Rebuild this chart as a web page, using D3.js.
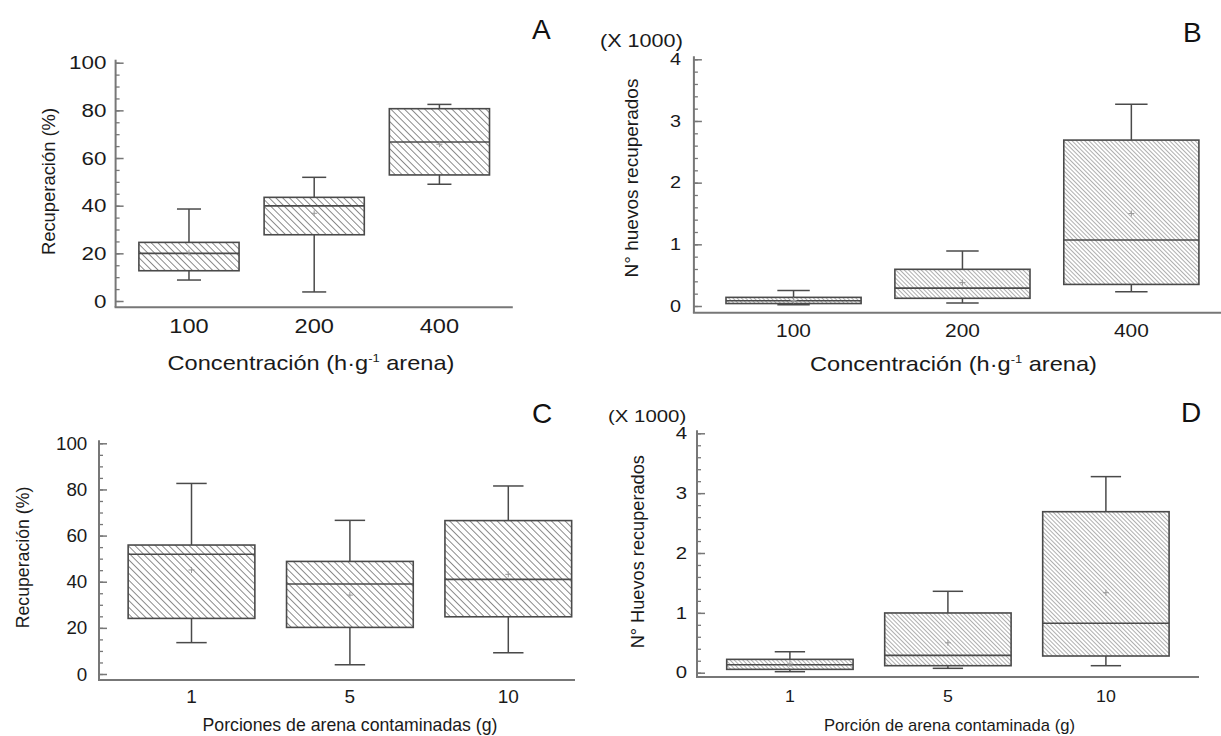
<!DOCTYPE html>
<html>
<head>
<meta charset="utf-8">
<script src="https://cdn.jsdelivr.net/npm/d3@7"></script>
<style>
  body { margin: 0; background: #fff; }
  text { font-family: "Liberation Sans", Arial, sans-serif; fill: #1a1a1a; }
</style>
</head>
<body>
<div id="chart"></div>
<script>
// categories
const concCats = ['100', '200', '400'];
const portionCats = ['1', '5', '10'];

// A: recuperación (%) por concentración
const recConcMin  = [8.8, 3.8, 49.0];
const recConcQ1   = [12.7, 27.8, 52.9];
const recConcMed  = [20.0, 39.9, 66.7];
const recConcQ3   = [24.6, 43.5, 80.7];
const recConcMax  = [38.6, 51.9, 82.5];
const recConcMean = [20.3, 36.8, 65.8];

// B: huevos recuperados (x 1000) por concentración
const eggConcMin  = [0.02, 0.05, 0.23];
const eggConcQ1   = [0.04, 0.125, 0.35];
const eggConcMed  = [0.085, 0.29, 1.07];
const eggConcQ3   = [0.14, 0.595, 2.69];
const eggConcMax  = [0.25, 0.89, 3.27];
const eggConcMean = [0.09, 0.38, 1.50];

// C: recuperación (%) por porción de arena
const recPortMin  = [13.6, 4.0, 9.2];
const recPortQ1   = [24.1, 20.2, 24.8];
const recPortMed  = [51.9, 39.0, 41.0];
const recPortQ3   = [55.9, 48.8, 66.5];
const recPortMax  = [82.6, 66.6, 81.5];
const recPortMean = [45.1, 34.2, 43.2];

// D: huevos recuperados (x 1000) por porción de arena
const eggPortMin  = [0.017, 0.073, 0.117];
const eggPortQ1   = [0.056, 0.117, 0.279];
const eggPortMed  = [0.134, 0.29, 0.825];
const eggPortQ3   = [0.223, 0.998, 2.69];
const eggPortMax  = [0.35, 1.36, 3.276];
const eggPortMean = [0.145, 0.50, 1.337];

const pctTicks = [0, 20, 40, 60, 80, 100];
const eggTicks = [0, 1, 2, 3, 4];

const w = 1221;
const h = 736;
const axisColor = '#777';
const boxColor = '#4a4a4a';

const svg = d3.select('#chart')
    .append('svg')
    .attr('width', w)
    .attr('height', h)
    .style('background-color', '#fff');

const defs = svg.append('defs');

function hatch(id, size, color, width) {
    const p = defs.append('pattern')
        .attr('id', id)
        .attr('patternUnits', 'userSpaceOnUse')
        .attr('width', size)
        .attr('height', size)
        .attr('patternTransform', 'rotate(-45)');
    p.append('rect').attr('width', size).attr('height', size).attr('fill', '#fff');
    p.append('line')
        .attr('x1', size / 2).attr('y1', -1)
        .attr('x2', size / 2).attr('y2', size + 1)
        .attr('stroke', color)
        .attr('stroke-width', width);
}
hatch('hatchAC', 4.8, '#7f7f7f', 0.9);
hatch('hatchBD', 3, '#a0a0a0', 0.85);

function label(g, txt, x, y, size, sx, anchor) {
    return g.append('text')
        .attr('transform', `translate(${x},${y}) scale(${sx},1)`)
        .attr('text-anchor', anchor)
        .attr('font-size', size)
        .text(txt);
}

function drawPanel(p) {
    const g = svg.append('g');

    const x = d3.scaleBand()
        .domain(p.cats)
        .range([p.x0, p.xr])
        .paddingInner(0.2)
        .paddingOuter(p.po);
    const y = d3.scaleLinear()
        .domain([0, p.top])
        .range([p.yZero, p.yTop]);
    const bw = x.bandwidth();
    const cw = bw * 0.24;

    const rows = p.cats.map((c, i) => ({
        cat: c, lo: p.lo[i], q1: p.q1[i], med: p.med[i],
        q3: p.q3[i], hi: p.hi[i], mean: p.mean[i]
    }));

    // axes
    g.append('line')
        .attr('x1', p.x0).attr('x2', p.x0)
        .attr('y1', p.yTop - 3).attr('y2', p.xAxisY)
        .attr('stroke', axisColor).attr('stroke-width', 2);
    g.append('line')
        .attr('x1', p.x0 - 1).attr('x2', p.xEnd)
        .attr('y1', p.xAxisY).attr('y2', p.xAxisY)
        .attr('stroke', axisColor).attr('stroke-width', 2);

    g.append('g')
        .attr('transform', `translate(${p.x0},0)`)
        .attr('color', axisColor)
        .call(d3.axisLeft(y).tickValues(d3.range(0, p.top + 1e-9, p.minor)).tickSize(-4).tickFormat(''))
        .call(a => a.select('.domain').remove())
        .selectAll('line').attr('stroke-width', 1.3);

    const yAxis = g.append('g')
        .attr('transform', `translate(${p.x0},0)`)
        .attr('color', axisColor)
        .call(d3.axisLeft(y).tickValues(p.ticks).tickSize(-8).tickPadding(p.tickPad).tickFormat(d3.format('d')))
        .call(a => a.select('.domain').remove());
    yAxis.attr('font-size', p.tickFs).attr('font-family', null);
    yAxis.selectAll('line').attr('stroke-width', 1.5);
    yAxis.selectAll('text')
        .attr('fill', '#1a1a1a')
        .attr('transform', `scale(${p.tickSx},1)`);

    // whiskers
    const box = g.selectAll('.box').data(rows).enter().append('g').attr('class', 'box');
    const cx = d => x(d.cat) + bw / 2;

    box.append('line')
        .attr('x1', cx).attr('x2', cx)
        .attr('y1', d => y(d.hi)).attr('y2', d => y(d.q3))
        .attr('stroke', boxColor).attr('stroke-width', 1.5);
    box.append('line')
        .attr('x1', cx).attr('x2', cx)
        .attr('y1', d => y(d.q1)).attr('y2', d => y(d.lo))
        .attr('stroke', boxColor).attr('stroke-width', 1.5);
    box.append('line')
        .attr('x1', d => cx(d) - cw / 2).attr('x2', d => cx(d) + cw / 2)
        .attr('y1', d => y(d.hi)).attr('y2', d => y(d.hi))
        .attr('stroke', boxColor).attr('stroke-width', 1.5);
    box.append('line')
        .attr('x1', d => cx(d) - cw / 2).attr('x2', d => cx(d) + cw / 2)
        .attr('y1', d => y(d.lo)).attr('y2', d => y(d.lo))
        .attr('stroke', boxColor).attr('stroke-width', 1.5);

    box.append('rect')
        .attr('x', d => x(d.cat))
        .attr('y', d => y(d.q3))
        .attr('width', bw)
        .attr('height', d => y(d.q1) - y(d.q3))
        .attr('fill', `url(#${p.hatch})`)
        .attr('stroke', boxColor)
        .attr('stroke-width', 1.6);

    box.append('line')
        .attr('x1', d => x(d.cat)).attr('x2', d => x(d.cat) + bw)
        .attr('y1', d => y(d.med)).attr('y2', d => y(d.med))
        .attr('stroke', boxColor).attr('stroke-width', 1.6);

    // mean marker
    box.append('path')
        .attr('d', d => `M${cx(d) - 3},${y(d.mean)}h6M${cx(d)},${y(d.mean) - 3}v6`)
        .attr('stroke', '#999').attr('stroke-width', 1);

    // category labels
    rows.forEach(d => label(g, d.cat, cx(d), p.xlabY, p.xlabFs, p.xlabSx, 'middle'));

    // x title
    const t = label(g, '', p.titleX, p.titleY, p.titleFs, p.titleSx, 'middle');
    t.append('tspan').text(p.title[0]);
    if (p.title[1]) {
        t.append('tspan').attr('dy', -p.titleFs * 0.42).attr('font-size', p.titleFs * 0.55).text(p.title[1]);
        t.append('tspan').attr('dy', p.titleFs * 0.42).text(p.title[2]);
    }

    // y title
    g.append('text')
        .attr('transform', `translate(${p.yTitleX},${p.yTitleY}) rotate(-90)`)
        .attr('text-anchor', 'middle')
        .attr('font-size', p.yTitleFs)
        .text(p.yTitle);

    if (p.mult) {
        label(g, p.mult, p.multX, p.multY, p.multFs, 1.2, 'start');
    }

    g.append('text')
        .attr('x', p.letterX).attr('y', p.letterY)
        .attr('font-family', 'Lato, "Open Sans", sans-serif')
        .attr('font-size', 28)
        .style('fill', '#111')
        .text(p.letter);
}

drawPanel({
    cats: concCats, lo: recConcMin, q1: recConcQ1, med: recConcMed, q3: recConcQ3, hi: recConcMax, mean: recConcMean,
    x0: 115.6, xr: 512.8, po: 0.186, xEnd: 512.8,
    yZero: 301, yTop: 62.7, xAxisY: 307.3, top: 100, ticks: pctTicks, minor: 5,
    tickFs: 19, tickSx: 1.18, tickPad: 7.8,
    xlabFs: 20, xlabSx: 1.18, xlabY: 333,
    title: ['Concentración (h·g', '-1', ' arena)'], titleX: 311, titleY: 370, titleFs: 20, titleSx: 1.18,
    yTitle: 'Recuperación (%)', yTitleX: 55, yTitleY: 181.5, yTitleFs: 18.4,
    hatch: 'hatchAC', letter: 'A', letterX: 532, letterY: 39
});

drawPanel({
    cats: concCats, lo: eggConcMin, q1: eggConcQ1, med: eggConcMed, q3: eggConcQ3, hi: eggConcMax, mean: eggConcMean,
    x0: 693.9, xr: 1231, po: 0.19, xEnd: 1221,
    yZero: 306, yTop: 59.3, xAxisY: 312.7, top: 4, ticks: eggTicks, minor: 0.2,
    tickFs: 16.5, tickSx: 1.2, tickPad: 10.8,
    xlabFs: 19, xlabSx: 1.1, xlabY: 337,
    title: ['Concentración (h·g', '-1', ' arena)'], titleX: 953.5, titleY: 371, titleFs: 20, titleSx: 1.18,
    yTitle: 'N° huevos recuperados', yTitleX: 637.6, yTitleY: 178, yTitleFs: 19,
    mult: '(X 1000)', multX: 600, multY: 47, multFs: 18,
    hatch: 'hatchBD', letter: 'B', letterX: 1183, letterY: 42
});

drawPanel({
    cats: portionCats, lo: recPortMin, q1: recPortQ1, med: recPortMed, q3: recPortQ3, hi: recPortMax, mean: recPortMean,
    x0: 99, xr: 600.8, po: 0.184, xEnd: 575,
    yZero: 674, yTop: 443.3, xAxisY: 680, top: 100, ticks: pctTicks, minor: 5,
    tickFs: 18.8, tickSx: 1, tickPad: 11.7,
    xlabFs: 19, xlabSx: 1, xlabY: 703,
    title: ['Porciones de arena contaminadas (g)'], titleX: 350, titleY: 731, titleFs: 17.7, titleSx: 1,
    yTitle: 'Recuperación (%)', yTitleX: 28.7, yTitleY: 557.5, yTitleFs: 17.7,
    hatch: 'hatchAC', letter: 'C', letterX: 532, letterY: 423
});

drawPanel({
    cats: portionCats, lo: eggPortMin, q1: eggPortQ1, med: eggPortMed, q3: eggPortQ3, hi: eggPortMax, mean: eggPortMean,
    x0: 697, xr: 1198.8, po: 0.188, xEnd: 1199,
    yZero: 672.7, yTop: 433.3, xAxisY: 677, top: 4, ticks: eggTicks, minor: 0.2,
    tickFs: 16.3, tickSx: 1.25, tickPad: 8,
    xlabFs: 16.3, xlabSx: 1.09, xlabY: 702,
    title: ['Porción de arena contaminada (g)'], titleX: 949.5, titleY: 731, titleFs: 16.6, titleSx: 1,
    yTitle: 'N° Huevos recuperados', yTitleX: 644, yTitleY: 551.7, yTitleFs: 18.2,
    mult: '(X 1000)', multX: 608, multY: 422, multFs: 17,
    hatch: 'hatchBD', letter: 'D', letterX: 1181, letterY: 422
});
</script>
</body>
</html>
